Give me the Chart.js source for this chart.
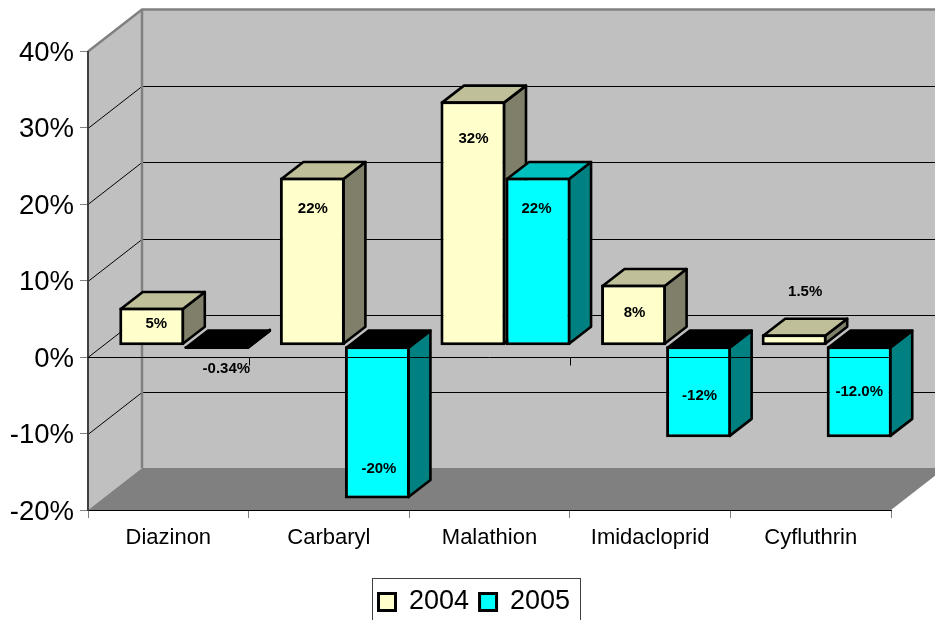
<!DOCTYPE html>
<html>
<head>
<meta charset="utf-8">
<style>html,body{margin:0;padding:0;background:#fff;overflow:hidden}canvas{display:block}</style>
<script src="https://cdn.jsdelivr.net/npm/chart.js@4"></script>
</head>
<body>
<canvas id="c" width="935" height="620"></canvas>
<script>
const categories = ['Diazinon', 'Carbaryl', 'Malathion', 'Imidacloprid', 'Cyfluthrin'];
const values2004 = [5, 22, 32, 8, 1.5];
const values2005 = [-0.34, -20, 22, -12, -12];
const labels2004 = ['5%', '22%', '32%', '8%', '1.5%'];
const labels2005 = ['-0.34%', '-20%', '22%', '-12%', '-12.0%'];
const nudge2004 = [[4.5, -2], [0.5, -52], [0.5, -84], [1, -2], [11, -48]];
const nudge2005 = [[9.5, 22], [1.5, 47], [-1.5, -52], [1, 4], [0, 0]];

const FONT = '"Liberation Sans", Arial, sans-serif';
const WALL = {dx: 54, dy: -42};
const BAR_PLANE = {dx: 16, dy: -11.5};
const BAR_DEPTH = {dx: 22, dy: -17};

function poly(ctx, pts, fill, stroke, lw) {
  ctx.beginPath();
  pts.forEach((p, i) => i ? ctx.lineTo(p[0], p[1]) : ctx.moveTo(p[0], p[1]));
  ctx.closePath();
  if (fill) { ctx.fillStyle = fill; ctx.fill(); }
  if (stroke) { ctx.strokeStyle = stroke; ctx.lineWidth = lw; ctx.lineJoin = 'round'; ctx.stroke(); }
}

function drawBarFaces(chart, index) {
  const {ctx} = chart;
  const ds = chart.data.datasets[index];
  const meta = chart.getDatasetMeta(index);
  const b = BAR_PLANE, k = BAR_DEPTH, m = 1.5;
  ctx.save();
  meta.data.forEach((el, i) => {
    const l = el.x - el.width / 2 + b.dx, r = el.x + el.width / 2 + b.dx;
    const t = Math.min(el.y, el.base) + b.dy, bt = Math.max(el.y, el.base) + b.dy;
    const neg = ds.data[i] < 0;
    poly(ctx, [[r - m, t + m], [r - m + k.dx, t + m + k.dy], [r - m + k.dx, bt - m + k.dy], [r - m, bt - m]], ds.sideColor, '#000', 2.6);
    poly(ctx, [[l + m, t + m], [l + m + k.dx, t + m + k.dy], [r - m + k.dx, t + m + k.dy], [r - m, t + m]], neg ? '#000' : ds.topColor, '#000', 2.6);
  });
  ctx.restore();
}

const scene3d = {
  id: 'scene3d',
  afterLayout(chart) {
    const lg = chart.legend;
    const w = lg.width, h = lg.height;
    lg.left = 368; lg.right = 368 + w;
    lg.top = 578; lg.bottom = 578 + h;
    const y = chart.scales.y;
    if (!y._nudged) {
      y._nudged = true;
      const orig = y.drawLabels;
      y.drawLabels = function (area) {
        const c = this.ctx;
        c.save();
        c.translate(0, 2);
        orig.call(this, area);
        c.restore();
      };
    }
  },
  beforeDraw(chart) {
    const {ctx, chartArea: a, scales: {y}} = chart;
    const d = WALL;
    ctx.save();
    poly(ctx, [[a.left + d.dx, a.top + d.dy], [a.right + d.dx, a.top + d.dy], [a.right + d.dx, a.bottom + d.dy], [a.left + d.dx, a.bottom + d.dy]], '#C0C0C0');
    poly(ctx, [[a.left, a.top], [a.left + d.dx, a.top + d.dy], [a.left + d.dx, a.bottom + d.dy], [a.left, a.bottom]], '#C0C0C0');
    poly(ctx, [[a.left, a.bottom], [a.left + d.dx, a.bottom + d.dy], [a.right + d.dx, a.bottom + d.dy], [a.right, a.bottom]], '#808080');
    ctx.lineWidth = 1;
    y.ticks.forEach(t => {
      if (t.value === y.max || t.value === y.min) return;
      const py = Math.round(y.getPixelForValue(t.value)) + 0.5;
      ctx.strokeStyle = '#000';
      ctx.beginPath();
      ctx.moveTo(a.left, py);
      ctx.lineTo(a.left + d.dx, py + d.dy);
      ctx.lineTo(a.right + d.dx, py + d.dy);
      ctx.stroke();
    });
    ctx.strokeStyle = '#808080';
    ctx.lineWidth = 2.5;
    ctx.beginPath();
    ctx.moveTo(a.left, a.top);
    ctx.lineTo(a.left + d.dx, a.top + d.dy);
    ctx.lineTo(a.right + d.dx, a.top + d.dy);
    ctx.moveTo(a.left + d.dx, a.top + d.dy);
    ctx.lineTo(a.left + d.dx, a.bottom + d.dy);
    ctx.stroke();
    ctx.restore();
  },
  beforeDatasetsDraw(chart) {
    const {ctx, chartArea: a, scales: {x, y}} = chart;
    // 2004 first, then 2005, so each 2005 bar sits in front of its neighbour
    chart.data.datasets.forEach((ds, i) => {
      drawBarFaces(chart, i);
      ctx.save();
      ctx.translate(BAR_PLANE.dx, BAR_PLANE.dy);
      chart.getDatasetMeta(i).controller.draw();
      ctx.restore();
    });
    const zero = Math.round(y.getPixelForValue(0)) + 0.5;
    ctx.save();
    ctx.strokeStyle = '#000';
    ctx.lineWidth = 1;
    ctx.beginPath();
    ctx.moveTo(a.left, zero);
    ctx.lineTo(a.right, zero);
    for (let i = 1; i < categories.length; i++) {
      const px = Math.round((x.getPixelForTick(i - 1) + x.getPixelForTick(i)) / 2) + 0.5;
      ctx.moveTo(px, zero);
      ctx.lineTo(px, zero + 8);
    }
    ctx.stroke();
    ctx.fillStyle = '#000';
    ctx.font = 'bold 15px ' + FONT;
    ctx.textAlign = 'center';
    ctx.textBaseline = 'middle';
    chart.data.datasets.forEach((ds, di) => {
      chart.getDatasetMeta(di).data.forEach((el, i) => {
        const cy = (el.y + el.base) / 2 + BAR_PLANE.dy;
        ctx.fillText(ds.pointText[i], el.x + BAR_PLANE.dx + ds.nudge[i][0], cy + ds.nudge[i][1]);
      });
    });
    ctx.restore();
    return false;
  },
  afterDraw(chart) {
    const {ctx} = chart;
    ctx.save();
    ctx.strokeStyle = '#404040';
    ctx.lineWidth = 1;
    ctx.strokeRect(372.5, 578.5, 208, 60);
    ctx.restore();
  }
};

new Chart(document.getElementById('c'), {
  type: 'bar',
  data: {
    labels: categories,
    datasets: [
      {label: '2004', data: values2004, backgroundColor: '#FFFFCC', borderColor: '#000', borderWidth: 3, borderSkipped: false,
       sideColor: '#80806A', topColor: '#BFBF99', pointText: labels2004, nudge: nudge2004},
      {label: '2005', data: values2005, backgroundColor: '#00FFFF', borderColor: '#000', borderWidth: 3, borderSkipped: false,
       sideColor: '#008080', topColor: '#00BFBF', pointText: labels2005, nudge: nudge2005}
    ]
  },
  options: {
    responsive: false,
    animation: false,
    events: [],
    layout: {padding: {left: 0, right: 44, top: 51.5, bottom: 0}},
    datasets: {bar: {barPercentage: 1, categoryPercentage: 0.81}},
    scales: {
      x: {
        grid: {display: true, drawOnChartArea: false, drawTicks: true, tickLength: 8, color: '#808080', offset: true},
        border: {display: true, color: '#000', width: 1},
        ticks: {font: {family: FONT, size: 22}, color: '#000', maxRotation: 0, padding: 7},
        afterFit(s) { s.height = 620 - 510 - s.chart.legend.height; }
      },
      y: {
        min: -20, max: 40,
        grid: {display: true, drawOnChartArea: false, drawTicks: true, tickLength: 8, color: '#808080'},
        border: {display: true, color: '#404040', width: 2},
        ticks: {font: {family: FONT, size: 27.5}, color: '#000', stepSize: 10, padding: 6, callback: v => v + '%'},
        afterFit(s) { s.width = 88; }
      }
    },
    plugins: {
      title: {display: false},
      tooltip: {enabled: false},
      legend: {
        display: true,
        position: 'bottom',
        align: 'start',
        labels: {font: {family: FONT, size: 27}, color: '#000', boxWidth: 17, boxHeight: 17, padding: 10.5}
      }
    }
  },
  plugins: [scene3d]
});
</script>
</body>
</html>
